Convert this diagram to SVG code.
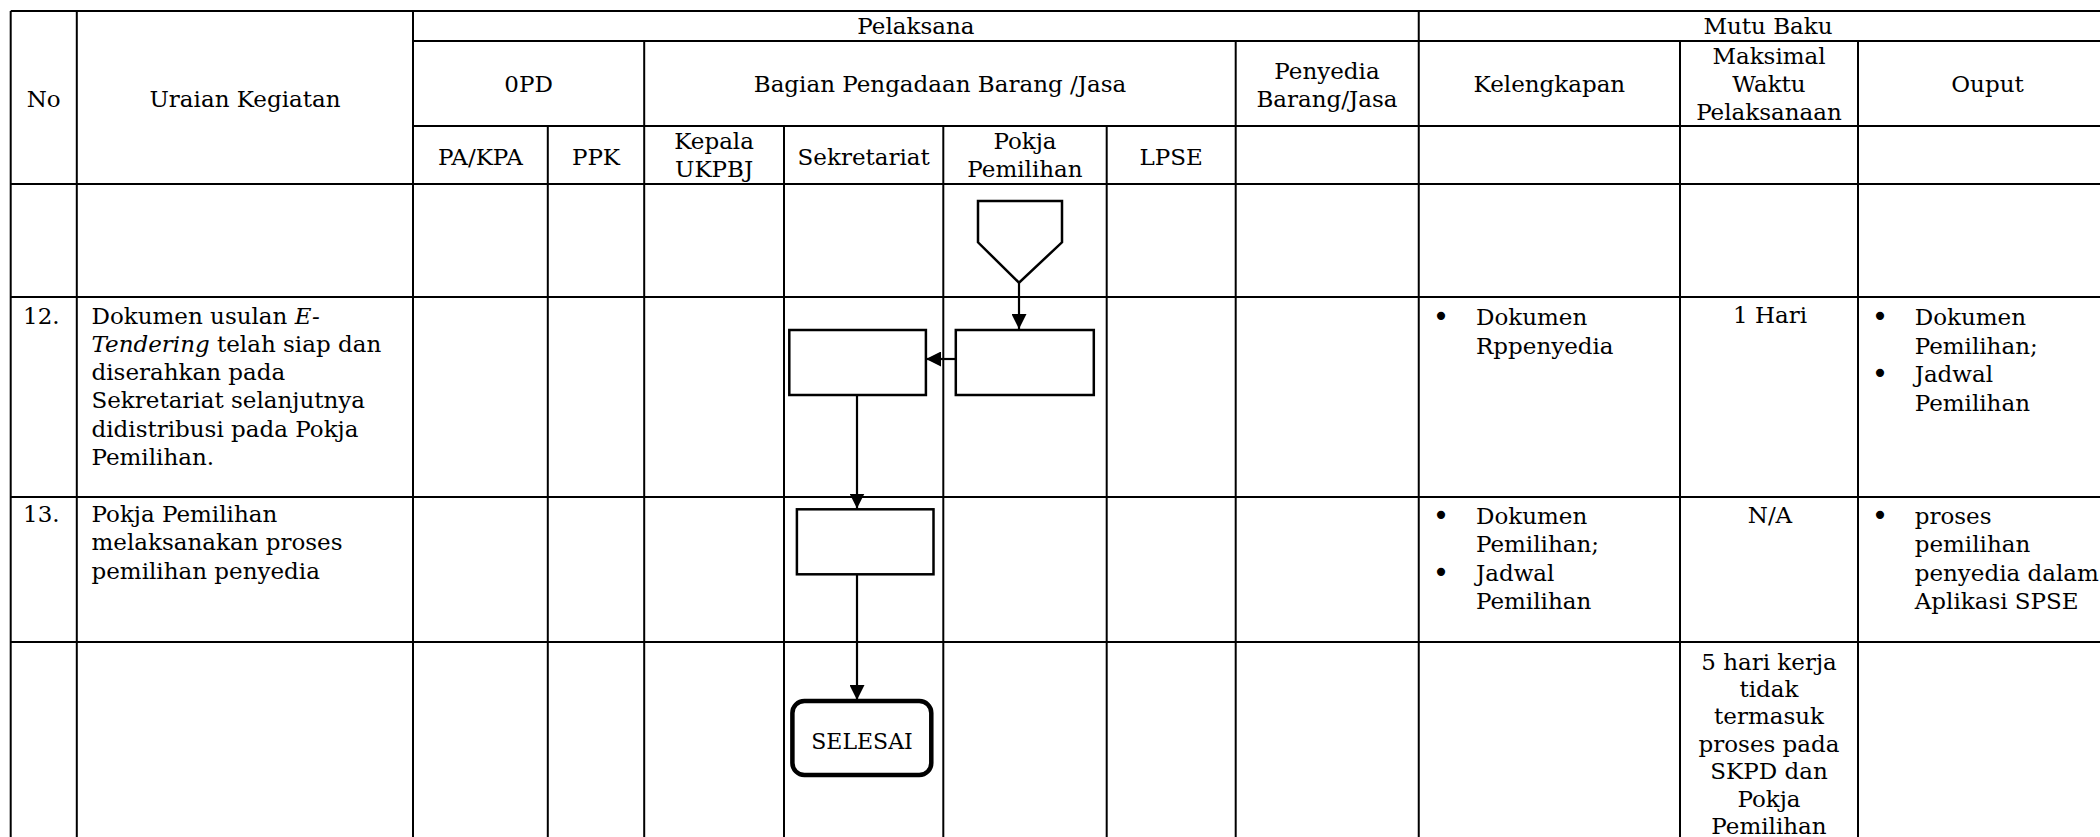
<svg xmlns="http://www.w3.org/2000/svg" width="2100" height="837" viewBox="0 0 2100 837">
<style>
.g{stroke:#000;stroke-width:2;fill:none}
.s{stroke:#000;stroke-width:2.5;fill:#fff}
.e{stroke:#000;stroke-width:4.5;fill:#fff}
.k{stroke:#000;stroke-width:2.2;fill:none}
text{font-family:"DejaVu Serif","Liberation Serif",serif;font-size:23px;fill:#000}
.c{text-anchor:middle}
.b{text-anchor:middle;font-family:"DejaVu Sans","Liberation Sans",sans-serif;font-size:28px}
.i{font-style:italic}
</style>
<defs>
<marker id="ah" markerUnits="userSpaceOnUse" markerWidth="15" markerHeight="15" refX="15" refY="7.5" orient="auto">
<path d="M0,0 L15,7.5 L0,15 z" fill="#000"/>
</marker>
</defs>
<rect width="2100" height="837" fill="#fff"/>
<g id="grid" class="g">
<line x1="10.7" y1="11" x2="2117" y2="11"/>
<line x1="413" y1="41" x2="2117" y2="41"/>
<line x1="413" y1="126" x2="2117" y2="126"/>
<line x1="10.7" y1="184" x2="2117" y2="184"/>
<line x1="10.7" y1="297" x2="2117" y2="297"/>
<line x1="10.7" y1="497" x2="2117" y2="497"/>
<line x1="10.7" y1="642" x2="2117" y2="642"/>
<line x1="10.7" y1="11" x2="10.7" y2="837"/>
<line x1="76.8" y1="11" x2="76.8" y2="837"/>
<line x1="413" y1="11" x2="413" y2="837"/>
<line x1="547.8" y1="126" x2="547.8" y2="837"/>
<line x1="644.2" y1="41" x2="644.2" y2="837"/>
<line x1="784" y1="126" x2="784" y2="837"/>
<line x1="943.3" y1="126" x2="943.3" y2="837"/>
<line x1="1106.7" y1="126" x2="1106.7" y2="837"/>
<line x1="1235.7" y1="41" x2="1235.7" y2="837"/>
<line x1="1418.75" y1="11" x2="1418.75" y2="837"/>
<line x1="1680" y1="41" x2="1680" y2="837"/>
<line x1="1858" y1="41" x2="1858" y2="837"/>
<line x1="2117" y1="11" x2="2117" y2="837"/>
</g>
<g id="header">
<text class="c" x="43.7" y="106.5">No</text>
<text class="c" x="245" y="106.5">Uraian Kegiatan</text>
<text class="c" x="915.9" y="33.5">Pelaksana</text>
<text class="c" x="1768" y="33.5">Mutu Baku</text>
<text class="c" x="528.6" y="92">0PD</text>
<text class="c" x="940" y="92">Bagian Pengadaan Barang /Jasa</text>
<text class="c" x="1327" y="79">Penyedia</text>
<text class="c" x="1327" y="107">Barang/Jasa</text>
<text class="c" x="1549.4" y="92">Kelengkapan</text>
<text class="c" x="1769" y="63.5">Maksimal</text>
<text class="c" x="1769" y="91.5">Waktu</text>
<text class="c" x="1769" y="119.5">Pelaksanaan</text>
<text class="c" x="1987.5" y="92">Ouput</text>
<text class="c" x="480.4" y="165">PA/KPA</text>
<text class="c" x="596" y="165">PPK</text>
<text class="c" x="714.1" y="149">Kepala</text>
<text class="c" x="714.1" y="177">UKPBJ</text>
<text class="c" x="863.7" y="165">Sekretariat</text>
<text class="c" x="1025" y="149">Pokja</text>
<text class="c" x="1025" y="177">Pemilihan</text>
<text class="c" x="1171.2" y="165">LPSE</text>
</g>
<g id="row12">
<text x="23" y="323.5">12.</text>
<text x="91.5" y="323.5">Dokumen usulan <tspan class="i">E-</tspan></text>
<text x="91.5" y="351.8"><tspan class="i">Tendering</tspan> telah siap dan</text>
<text x="91.5" y="380.1">diserahkan pada</text>
<text x="91.5" y="408.4">Sekretariat selanjutnya</text>
<text x="91.5" y="436.7">didistribusi pada Pokja</text>
<text x="91.5" y="465">Pemilihan.</text>
<text class="b" x="1441" y="326">•</text>
<text x="1476" y="325">Dokumen</text>
<text x="1476" y="353.5">Rppenyedia</text>
<text class="c" x="1770" y="323">1 Hari</text>
<text class="b" x="1880" y="326">•</text>
<text x="1914.7" y="325">Dokumen</text>
<text x="1914.7" y="353.5">Pemilihan;</text>
<text class="b" x="1880" y="383">•</text>
<text x="1914.7" y="382">Jadwal</text>
<text x="1914.7" y="410.5">Pemilihan</text>
</g>
<g id="row13">
<text x="23" y="522">13.</text>
<text x="91.5" y="522">Pokja Pemilihan</text>
<text x="91.5" y="550.3">melaksanakan proses</text>
<text x="91.5" y="578.6">pemilihan penyedia</text>
<text class="b" x="1441" y="524.5">•</text>
<text x="1476" y="523.5">Dokumen</text>
<text x="1476" y="552">Pemilihan;</text>
<text class="b" x="1441" y="581.5">•</text>
<text x="1476" y="580.5">Jadwal</text>
<text x="1476" y="609">Pemilihan</text>
<text class="c" x="1770" y="523">N/A</text>
<text class="b" x="1880" y="524.5">•</text>
<text x="1914.7" y="523.5">proses</text>
<text x="1914.7" y="552">pemilihan</text>
<text x="1914.7" y="580.5">penyedia dalam</text>
<text x="1914.7" y="609">Aplikasi SPSE</text>
</g>
<g id="rowEnd">
<text class="c" x="1769" y="669.5">5 hari kerja</text>
<text class="c" x="1769" y="696.9">tidak</text>
<text class="c" x="1769" y="724.3">termasuk</text>
<text class="c" x="1769" y="751.7">proses pada</text>
<text class="c" x="1769" y="779.1">SKPD dan</text>
<text class="c" x="1769" y="806.5">Pokja</text>
<text class="c" x="1769" y="833.9">Pemilihan</text>
</g>
<g id="connectors" class="k">
<line x1="1019" y1="282.7" x2="1019" y2="329" marker-end="url(#ah)"/>
<line x1="955.8" y1="359" x2="926" y2="359" marker-end="url(#ah)"/>
<line x1="857" y1="395" x2="857" y2="508.5" marker-end="url(#ah)"/>
<line x1="857" y1="574.3" x2="857" y2="700" marker-end="url(#ah)"/>
</g>
<g id="offpage">
<polygon class="s" points="978,201 1062,201 1062,242.3 1019,282.7 978,242.3"/>
</g>
<g id="pokja12">
<rect class="s" x="955.8" y="330" width="138" height="65"/>
</g>
<g id="sekretariat12">
<rect class="s" x="789.3" y="330" width="136.6" height="65"/>
</g>
<g id="sekretariat13">
<rect class="s" x="796.9" y="509.3" width="136.6" height="65"/>
</g>
<g id="selesai">
<rect class="e" x="792.4" y="701" width="138.9" height="74" rx="12"/>
<text class="c" x="862" y="749" style="font-size:22px">SELESAI</text>
</g>
</svg>
